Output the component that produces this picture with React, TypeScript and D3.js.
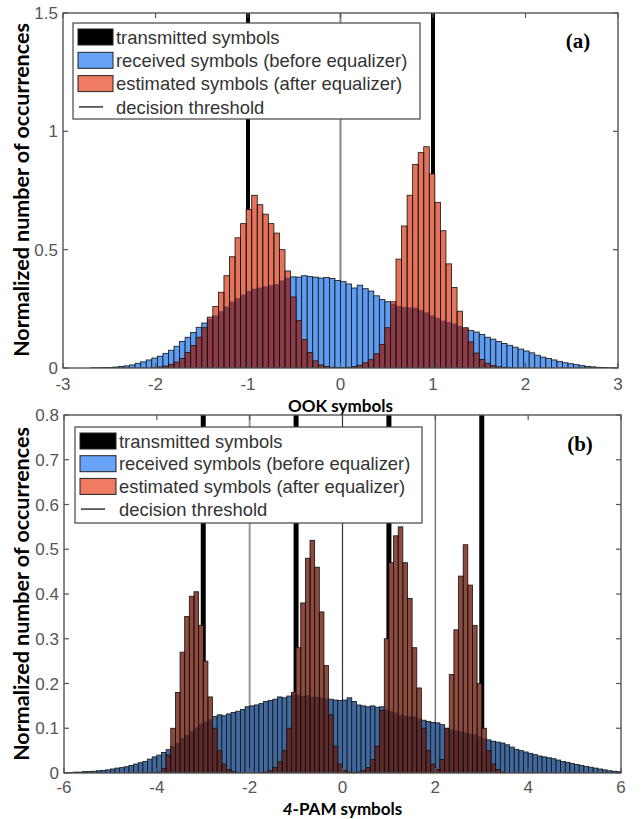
import React from 'react';
import * as d3 from 'd3';

// ---------- DATA ----------
const legendLabels = [
  'transmitted symbols',
  'received symbols (before equalizer)',
  'estimated symbols (after equalizer)',
  'decision threshold',
];

// Panel (a): OOK
const topBinStart = -3;
const topBinWidth = 0.06;
const topReceived = [
  0, 0, 0, 0, 0, 0.001, 0.001, 0.002, 0.002, 0.004,
  0.006, 0.009, 0.013, 0.02, 0.026, 0.034, 0.042, 0.05, 0.062, 0.075,
  0.092, 0.112, 0.13, 0.15, 0.172, 0.19, 0.208, 0.222, 0.24, 0.26,
  0.28, 0.295, 0.31, 0.325, 0.335, 0.34, 0.345, 0.35, 0.355, 0.37,
  0.382, 0.385, 0.384, 0.39, 0.386, 0.384, 0.38, 0.382, 0.378, 0.37,
  0.365, 0.355, 0.338, 0.35, 0.335, 0.325, 0.305, 0.29, 0.28, 0.272,
  0.262, 0.258, 0.256, 0.255, 0.245, 0.235, 0.222, 0.212, 0.2, 0.194,
  0.188, 0.178, 0.168, 0.158, 0.152, 0.142, 0.13, 0.122, 0.112, 0.104,
  0.096, 0.088, 0.08, 0.072, 0.064, 0.054, 0.046, 0.04, 0.034, 0.028,
  0.022, 0.018, 0.014, 0.01, 0.007, 0.005, 0.003, 0.002, 0.001, 0.001,
];
const topEstimated = [
  0, 0, 0, 0, 0, 0, 0, 0, 0, 0,
  0, 0, 0, 0, 0, 0, 0.001, 0.004, 0.008, 0.015,
  0.025, 0.04, 0.065, 0.095, 0.13, 0.17, 0.215, 0.26, 0.32, 0.39,
  0.47, 0.55, 0.61, 0.67, 0.73, 0.69, 0.65, 0.61, 0.57, 0.5,
  0.41, 0.3, 0.2, 0.12, 0.065, 0.03, 0.013, 0.006, 0.003, 0.002,
  0.002, 0.003, 0.006, 0.012, 0.022, 0.035, 0.06, 0.1, 0.17, 0.28,
  0.46, 0.6, 0.73, 0.86, 0.91, 0.935, 0.82, 0.7, 0.58, 0.44,
  0.34, 0.24, 0.17, 0.11, 0.063, 0.036, 0.02, 0.01, 0.005, 0.003,
  0.001, 0, 0, 0, 0, 0, 0, 0, 0, 0,
  0, 0, 0, 0, 0, 0, 0, 0, 0, 0,
];
const topTransmitted = [-1, 1];
const topThresholds = [0];
const topXTicks = [-3, -2, -1, 0, 1, 2, 3];
const topYTicks = [0, 0.5, 1, 1.5];

// Panel (b): 4-PAM
const bottomBinStart = -6;
const bottomBinWidth = 0.1;
const bottomReceived = [
  0.001, 0.001, 0.002, 0.002, 0.003, 0.003, 0.004, 0.005, 0.006, 0.007,
  0.009, 0.011, 0.012, 0.014, 0.017, 0.02, 0.023, 0.026, 0.031, 0.036,
  0.04, 0.046, 0.052, 0.06, 0.067, 0.078, 0.085, 0.093, 0.102, 0.11,
  0.115, 0.12, 0.126, 0.13, 0.128, 0.132, 0.135, 0.138, 0.142, 0.148,
  0.15, 0.152, 0.155, 0.16, 0.162, 0.165, 0.17, 0.168, 0.172, 0.176,
  0.175, 0.172, 0.174, 0.17, 0.17, 0.168, 0.166, 0.165, 0.163, 0.162,
  0.163, 0.168, 0.16, 0.152, 0.15, 0.148, 0.15, 0.147, 0.148, 0.142,
  0.138, 0.135, 0.13, 0.128, 0.127, 0.126, 0.122, 0.118, 0.115, 0.113,
  0.112, 0.108, 0.1, 0.097, 0.095, 0.093, 0.09, 0.088, 0.086, 0.082,
  0.077, 0.074, 0.071, 0.069, 0.067, 0.063, 0.058, 0.053, 0.05, 0.047,
  0.044, 0.041, 0.038, 0.036, 0.034, 0.032, 0.029, 0.026, 0.024, 0.021,
  0.019, 0.017, 0.015, 0.013, 0.011, 0.009, 0.007, 0.005, 0.004, 0.003,
];
const bottomEstimated = [
  0, 0, 0, 0, 0, 0, 0, 0, 0, 0,
  0, 0, 0, 0, 0, 0, 0, 0, 0, 0,
  0.002, 0.01, 0.04, 0.1, 0.18, 0.27, 0.35, 0.395, 0.405, 0.33,
  0.25, 0.17, 0.1, 0.05, 0.02, 0.008, 0.003, 0.001, 0, 0,
  0, 0, 0.001, 0.002, 0.005, 0.012, 0.025, 0.05, 0.1, 0.18,
  0.28, 0.38, 0.48, 0.52, 0.46, 0.36, 0.24, 0.13, 0.06, 0.02,
  0.006, 0.002, 0.001, 0.002, 0.005, 0.012, 0.03, 0.06, 0.14, 0.3,
  0.47, 0.53, 0.55, 0.47, 0.39, 0.28, 0.19, 0.1, 0.05, 0.02,
  0.008, 0.03, 0.1, 0.22, 0.32, 0.44, 0.51, 0.42, 0.33, 0.2,
  0.1, 0.05, 0.02, 0.008, 0.002, 0, 0, 0, 0, 0,
  0, 0, 0, 0, 0, 0, 0, 0, 0, 0,
  0, 0, 0, 0, 0, 0, 0, 0, 0, 0,
];
const bottomTransmitted = [-3, -1, 1, 3];
const bottomThresholds = [-2, 0, 2];
const bottomXTicks = [-6, -4, -2, 0, 2, 4, 6];
const bottomYTicks = [0, 0.1, 0.2, 0.3, 0.4, 0.5, 0.6, 0.7, 0.8];

// ---------- STYLE ----------
const AXIS_COLOR = '#555';
const TICK_FONT = '"Liberation Sans", Arial, sans-serif';
const LABEL_FONT = 'Lato, "Open Sans", sans-serif';

type PanelProps = {
  id: string;
  left: number; right: number; top: number; bottom: number;
  xDomain: [number, number]; yDomain: [number, number];
  binStart: number; binWidth: number;
  received: number[]; estimated: number[];
  transmitted: number[]; transmittedWidth: number;
  thresholds: number[];
  thresholdColors: string[];
  thresholdWidths: number[];
  xTicks: number[]; yTicks: number[];
  colors: { blue: string; red: string; overlap: string };
  legend: { x: number; y: number; w: number; h: number; rowH: number; swatchW: number };
  tag: string; tagX: number; tagY: number;
  xLabel: React.ReactNode; xLabelY: number;
  yLabelCenter: number;
  xTickLabelDy: number;
};

function Panel(p: PanelProps) {
  const x = d3.scaleLinear().domain(p.xDomain).range([p.left, p.right]);
  const y = d3.scaleLinear().domain(p.yDomain).range([p.bottom, p.top]);
  const bins = p.received.map((b, i) => ({
    x0: p.binStart + i * p.binWidth,
    x1: p.binStart + (i + 1) * p.binWidth,
    b,
    r: p.estimated[i],
  }));
  const tickLen = 5;
  const fmt = (v: number) => String(+v.toFixed(2));
  const clipId = `clip-${p.id}`;
  const L = p.legend;
  const legendColors = ['#000', '#66a3f6', '#ee7b62'];

  return (
    <g>
      <defs>
        <clipPath id={clipId}>
          <rect x={p.left} y={p.top} width={p.right - p.left} height={p.bottom - p.top} />
        </clipPath>
      </defs>
      <g clipPath={`url(#${clipId})`}>
        {p.thresholds.map((t, i) => (
          <line key={`th${i}`} x1={x(t)} x2={x(t)} y1={p.top} y2={p.bottom}
            stroke={p.thresholdColors[i]} strokeWidth={p.thresholdWidths[i]} />
        ))}
        {p.transmitted.map((t, i) => (
          <rect key={`tx${i}`} x={x(t) - p.transmittedWidth / 2} y={p.top}
            width={p.transmittedWidth} height={p.bottom - p.top} fill="#000" />
        ))}
        {bins.map((d, i) => d.b > 0 ? (
          <rect key={`b${i}`} x={x(d.x0)} y={y(d.b)} width={x(d.x1) - x(d.x0)}
            height={y(0) - y(d.b)} fill={p.colors.blue} stroke="#111" strokeWidth={0.8} />
        ) : null)}
        {bins.map((d, i) => d.r > 0 ? (
          <rect key={`r${i}`} x={x(d.x0)} y={y(d.r)} width={x(d.x1) - x(d.x0)}
            height={y(0) - y(d.r)} fill={p.colors.red} />
        ) : null)}
        {bins.map((d, i) => {
          const m = Math.min(d.b, d.r);
          return m > 0 ? (
            <rect key={`o${i}`} x={x(d.x0)} y={y(m)} width={x(d.x1) - x(d.x0)}
              height={y(0) - y(m)} fill={p.colors.overlap} />
          ) : null;
        })}
        {bins.map((d, i) => d.r > 0 ? (
          <rect key={`rs${i}`} x={x(d.x0)} y={y(d.r)} width={x(d.x1) - x(d.x0)}
            height={y(0) - y(d.r)} fill="none" stroke="#111" strokeWidth={0.8} />
        ) : null)}
      </g>

      {p.xTicks.map((t, i) => (
        <g key={`xt${i}`}>
          <line x1={x(t)} x2={x(t)} y1={p.bottom} y2={p.bottom - tickLen} stroke={AXIS_COLOR} strokeWidth={1.2} />
          <line x1={x(t)} x2={x(t)} y1={p.top} y2={p.top + tickLen} stroke={AXIS_COLOR} strokeWidth={1.2} />
          <text x={x(t)} y={p.bottom + p.xTickLabelDy} textAnchor="middle" fontFamily={TICK_FONT}
            fontSize={17} fill="#555">{fmt(t)}</text>
        </g>
      ))}
      {p.yTicks.map((t, i) => (
        <g key={`yt${i}`}>
          <line x1={p.left} x2={p.left + tickLen} y1={y(t)} y2={y(t)} stroke={AXIS_COLOR} strokeWidth={1.2} />
          <line x1={p.right} x2={p.right - tickLen} y1={y(t)} y2={y(t)} stroke={AXIS_COLOR} strokeWidth={1.2} />
          <text x={p.left - 5} y={y(t)} dy="0.36em" textAnchor="end" fontFamily={TICK_FONT}
            fontSize={17} fill="#555">{fmt(t)}</text>
        </g>
      ))}
      <rect x={p.left} y={p.top} width={p.right - p.left} height={p.bottom - p.top}
        fill="none" stroke={AXIS_COLOR} strokeWidth={1.4} />

      <g>
        <rect x={L.x} y={L.y} width={L.w} height={L.h} fill="#fff" stroke="#444" strokeWidth={1.2} />
        {legendLabels.map((lab, i) => {
          const cy = L.y + 14 + i * L.rowH;
          return (
            <g key={`lg${i}`}>
              {i < 3 ? (
                <rect x={L.x + 5} y={cy - 8} width={L.swatchW} height={16}
                  fill={legendColors[i]} stroke="#222" strokeWidth={1} />
              ) : (
                <line x1={L.x + 6} x2={L.x + 30} y1={cy} y2={cy} stroke="#333" strokeWidth={1.5} />
              )}
              <text x={L.x + L.swatchW + 8} y={cy} dy="0.36em" fontFamily={TICK_FONT} fontSize={18.4}
                fill="#333">{lab}</text>
            </g>
          );
        })}
      </g>

      <text x={p.tagX} y={p.tagY} textAnchor="middle" fontFamily='"Liberation Serif", "Times New Roman", serif'
        fontWeight="bold" fontSize={21} fill="#000">{p.tag}</text>

      <text x={(p.left + p.right) / 2} y={p.xLabelY} textAnchor="middle" fontFamily={LABEL_FONT}
        fontWeight="bold" fontSize={17} fill="#000">{p.xLabel}</text>
      <text transform={`translate(29,${p.yLabelCenter}) rotate(-90)`} textAnchor="middle"
        fontFamily={LABEL_FONT} fontWeight="bold" fontSize={21.5} fill="#000">
        Normalized number of occurrences
      </text>
    </g>
  );
}

export default function App() {
  return (
    <svg width={641} height={819} style={{ position: 'absolute', left: 0, top: 0, background: '#fff' }}>
      <rect x={0} y={0} width={641} height={819} fill="#fff" />
      <Panel
        id="a"
        left={63} right={618} top={13} bottom={368}
        xDomain={[-3, 3]} yDomain={[0, 1.5]}
        binStart={topBinStart} binWidth={topBinWidth}
        received={topReceived} estimated={topEstimated}
        transmitted={topTransmitted} transmittedWidth={4}
        thresholds={topThresholds}
        thresholdColors={['#888']} thresholdWidths={[2]}
        xTicks={topXTicks} yTicks={topYTicks}
        colors={{ blue: '#5d9cf0', red: '#e5735a', overlap: '#8c3b46' }}
        legend={{ x: 73, y: 23, w: 347, h: 96, rowH: 23.3, swatchW: 35 }}
        tag="(a)" tagX={578} tagY={48}
        xLabel="OOK symbols" xLabelY={412}
        yLabelCenter={190}
        xTickLabelDy={22}
      />
      <Panel
        id="b"
        left={64} right={621} top={415} bottom={773}
        xDomain={[-6, 6]} yDomain={[0, 0.8]}
        binStart={bottomBinStart} binWidth={bottomBinWidth}
        received={bottomReceived} estimated={bottomEstimated}
        transmitted={bottomTransmitted} transmittedWidth={5}
        thresholds={bottomThresholds}
        thresholdColors={['#999', '#333', '#777']} thresholdWidths={[2, 1.2, 1.5]}
        xTicks={bottomXTicks} yTicks={bottomYTicks}
        colors={{ blue: '#40699f', red: '#8e4a3c', overlap: '#5e2a2b' }}
        legend={{ x: 75, y: 427, w: 347, h: 96, rowH: 22.7, swatchW: 36 }}
        tag="(b)" tagX={580} tagY={451}
        xLabel={<><tspan fontStyle="italic">4</tspan>-PAM symbols</>} xLabelY={815}
        yLabelCenter={594}
        xTickLabelDy={20}
      />
    </svg>
  );
}
